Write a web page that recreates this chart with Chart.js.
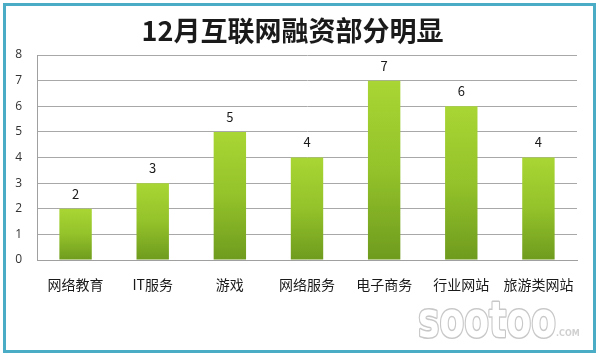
<!DOCTYPE html>
<html>
<head>
<meta charset="utf-8">
<script src="https://cdn.jsdelivr.net/npm/chart.js@4/dist/chart.umd.min.js"></script>
<style>
html,body{margin:0;padding:0;background:#fff;}
#wrap{width:599px;height:356px;position:relative;}
</style>
</head>
<body>
<div id="wrap"><canvas id="c" width="599" height="356"></canvas></div>
<script>
const titleText = '12月互联网融资部分明显';
const categories = ['网络教育', 'IT服务', '游戏', '网络服务', '电子商务', '行业网站', '旅游类网站'];
const values = [2, 3, 5, 4, 7, 6, 4];
const yTicks = [0, 1, 2, 3, 4, 5, 6, 7, 8];
const watermark = 'sootoo';
const watermarkSuffix = '.COM';

const CJK = '"Noto Sans CJK SC", "Noto Sans", sans-serif';

const frame = {
  id: 'frame',
  beforeDraw(chart) {
    const ctx = chart.ctx;
    ctx.save();
    ctx.fillStyle = '#ffffff';
    ctx.fillRect(0, 0, chart.width, chart.height);
    ctx.strokeStyle = '#4bacc6';
    ctx.lineWidth = 3;
    ctx.strokeRect(4.5, 4.5, 590, 347);
    ctx.restore();
  },
  afterDraw(chart) {
    const ctx = chart.ctx;
    ctx.save();
    ctx.font = 'bold 48px "DejaVu Sans", sans-serif';
    const w = ctx.measureText(watermark).width;
    ctx.translate(418, 337);
    ctx.scale(138 / w, 1.05);
    ctx.lineJoin = 'round';
    ctx.lineWidth = 3;
    ctx.strokeStyle = '#c8c8c8';
    ctx.fillStyle = '#ffffff';
    ctx.textBaseline = 'alphabetic';
    ctx.strokeText(watermark, 0, 0);
    ctx.fillText(watermark, 0, 0);
    ctx.restore();
    ctx.save();
    ctx.font = 'bold 8px "DejaVu Sans", sans-serif';
    ctx.fillStyle = '#d0d0d0';
    ctx.fillText(watermarkSuffix, 556, 336);
    ctx.restore();
  }
};

const dataLabels = {
  id: 'dataLabels',
  afterDatasetsDraw(chart) {
    const ctx = chart.ctx;
    const meta = chart.getDatasetMeta(0);
    ctx.save();
    ctx.font = '13px ' + CJK;
    ctx.fillStyle = '#1a1a1a';
    ctx.textAlign = 'center';
    ctx.textBaseline = 'middle';
    meta.data.forEach((bar, i) => {
      ctx.fillText(String(values[i]), bar.x, bar.y - 15);
    });
    ctx.restore();
  }
};

function barFill(context) {
  const chart = context.chart;
  const y = chart.scales && chart.scales.y;
  if (!y || !chart.chartArea) return '#8cbf26';
  const v = context.raw;
  const top = y.getPixelForValue(v);
  const bottom = y.getPixelForValue(0);
  const g = chart.ctx.createLinearGradient(0, top, 0, bottom);
  g.addColorStop(0, '#a9d634');
  g.addColorStop(0.5, '#93c22a');
  g.addColorStop(1, '#6f9b1e');
  return g;
}

new Chart(document.getElementById('c'), {
  type: 'bar',
  data: {
    labels: categories,
    datasets: [{
      data: values,
      backgroundColor: barFill,
      borderWidth: 0,
      categoryPercentage: 1,
      barPercentage: 0.42
    }]
  },
  plugins: [frame, dataLabels],
  options: {
    responsive: false,
    animation: false,
    layout: { padding: { left: 8, right: 22, top: 0, bottom: 56 } },
    plugins: {
      legend: { display: false },
      tooltip: { enabled: false },
      title: {
        display: true,
        text: titleText,
        color: '#1a1a1a',
        font: { family: CJK, size: 27, weight: 'bold', lineHeight: 1.2 },
        padding: { top: 15, bottom: 7.6 }
      }
    },
    scales: {
      x: {
        grid: { display: false, drawTicks: false },
        border: { display: true, color: '#a0a0a0', width: 1 },
        ticks: { color: '#1a1a1a', font: { family: CJK, size: 14 }, padding: 16, maxRotation: 0, autoSkip: false },
        afterFit(s) { s.height = 40; }
      },
      y: {
        min: 0,
        max: 8,
        afterBuildTicks(s) { s.ticks = yTicks.map(v => ({ value: v })); },
        grid: { color: '#a8a8a8', drawTicks: false, lineWidth: 1 },
        border: { display: true, color: '#a0a0a0', width: 1 },
        ticks: { color: '#333333', font: { family: '"Open Sans", "DejaVu Sans", sans-serif', size: 12 }, padding: 15 },
        afterFit(s) { s.width = 29; }
      }
    }
  }
});
</script>
</body>
</html>
